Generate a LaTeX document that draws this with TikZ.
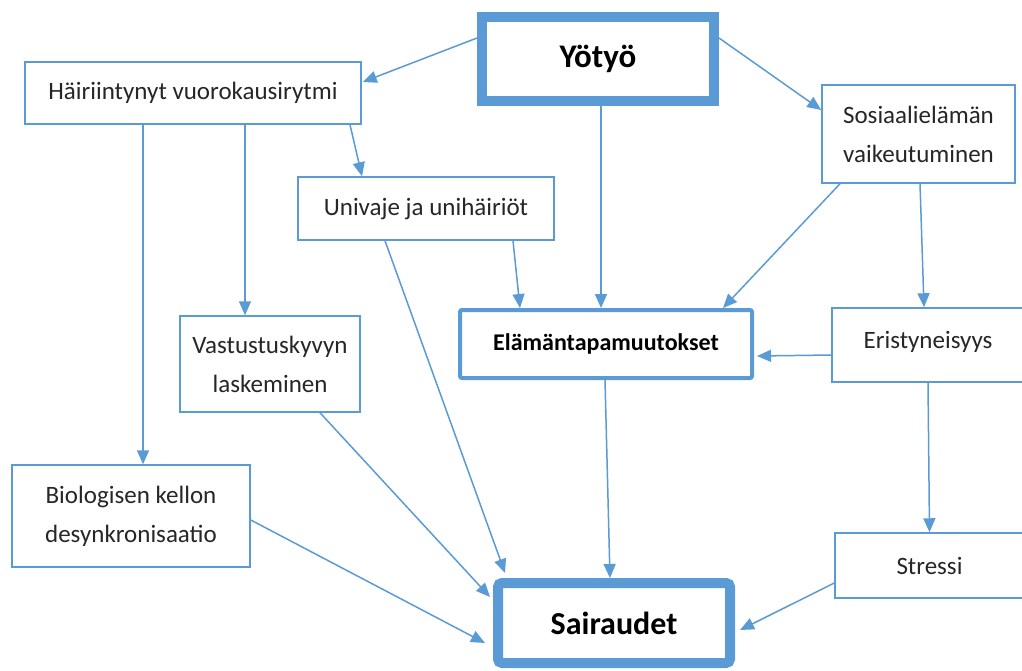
\documentclass[tikz,border=0pt]{standalone}
\usepackage{fontspec}
\setmainfont{Carlito}
\usetikzlibrary{arrows.meta,calc}
\definecolor{bl}{HTML}{5B9BD5}
\definecolor{tx}{HTML}{262626}
\begin{document}
\begin{tikzpicture}[x=1pt,y=-1pt,
  thinbox/.style={draw=bl,line width=1.5pt,fill=white,inner sep=0pt,align=center,text=tx,
    font=\fontsize{25}{39}\selectfont},
  thickbox/.style={draw=bl,line width=10pt,fill=white,inner sep=0pt,align=center,text=black,
    font=\fontsize{33}{40}\selectfont\bfseries},
  midbox/.style={draw=bl,line width=4pt,fill=white,inner sep=0pt,align=center,text=black,rounded corners=2pt,
    font=\fontsize{24}{30}\selectfont\bfseries},
  arr/.style={draw=bl,line width=1.5pt,-{Triangle[length=14pt,width=12pt]}}]
\useasboundingbox (0,0) rectangle (1022,670);
\clip (0,0) rectangle (1022,670);
% nodes
\node[thickbox,minimum width=232pt,minimum height=84pt] (Y) at (598,59) {Yötyö};
\node[thinbox,minimum width=336pt,minimum height=62pt] (H) at (193,93) {Häiriintynyt vuorokausirytmi};
\node[thinbox,minimum width=193pt,minimum height=98pt] (So) at (918.5,134) {Sosiaalielämän\\vaikeutuminen};
\node[thinbox,minimum width=256pt,minimum height=63pt] (U) at (426,208.5) {Univaje ja unihäiriöt};
\node[midbox,minimum width=292pt,minimum height=68pt] (E) at (606,344) {Elämäntapamuutokset};
\node[thinbox,minimum width=180pt,minimum height=96pt] (V) at (270,364) {Vastustuskyvyn\\laskeminen};
\node[thinbox,minimum width=192pt,minimum height=74pt,text depth=10pt] (Er) at (928,345) {Eristyneisyys};
\node[thinbox,minimum width=238pt,minimum height=102pt] (B) at (131,516) {Biologisen kellon\\desynkronisaatio};
\node[thinbox,minimum width=189pt,minimum height=65pt] (St) at (929.5,565.5) {Stressi};
\node[thickbox,rounded corners=4pt,minimum width=232pt,minimum height=80pt,font=\fontsize{32}{40}\selectfont\bfseries] (Sa) at (614,623) {Sairaudet};
% connectors
\draw[arr] ([yshift=21pt]Y.west) -- ([xshift=1pt,yshift=11pt]H.east);
\draw[arr] ([yshift=21pt]Y.east) -- ([yshift=24pt]So.west);
\draw[arr] ([xshift=3pt]Y.south) -- ([xshift=-5pt]E.north);
\draw[arr] ([xshift=-50pt]H.south) -- ([xshift=12pt]B.north);
\draw[arr] ([xshift=52pt]H.south) -- ([xshift=-25pt]V.north);
\draw[arr] ([xshift=157pt]H.south) -- ([xshift=-64pt]U.north);
\draw[arr] ([xshift=87pt]U.south) -- ([xshift=-86pt]E.north);
\draw[arr] ([xshift=-41pt]U.south) -- ([xshift=12pt,yshift=5pt]Sa.north west);
\draw[arr] ([xshift=-78.5pt]So.south) -- ([xshift=117pt]E.north);
\draw[arr] ([xshift=1.5pt]So.south) -- ([xshift=-4pt]Er.north);
\draw[arr] ([yshift=-10pt]Er.west) -- ([xshift=3pt,yshift=-12pt]E.east);
\draw[arr] (Er.south) -- (St.north);
\draw[arr] ([xshift=-1pt]E.south) -- ([xshift=-4pt]Sa.north);
\draw[arr] ([xshift=50pt]V.south) -- ([xshift=-3pt,yshift=26pt]Sa.west);
\draw[arr] ([yshift=-4pt]B.east) -- ([xshift=-8pt,yshift=-20pt]Sa.west);
\draw[arr] ([yshift=-17.5pt]St.west) -- ([xshift=5pt,yshift=-7pt]Sa.east);
\end{tikzpicture}
\end{document}
